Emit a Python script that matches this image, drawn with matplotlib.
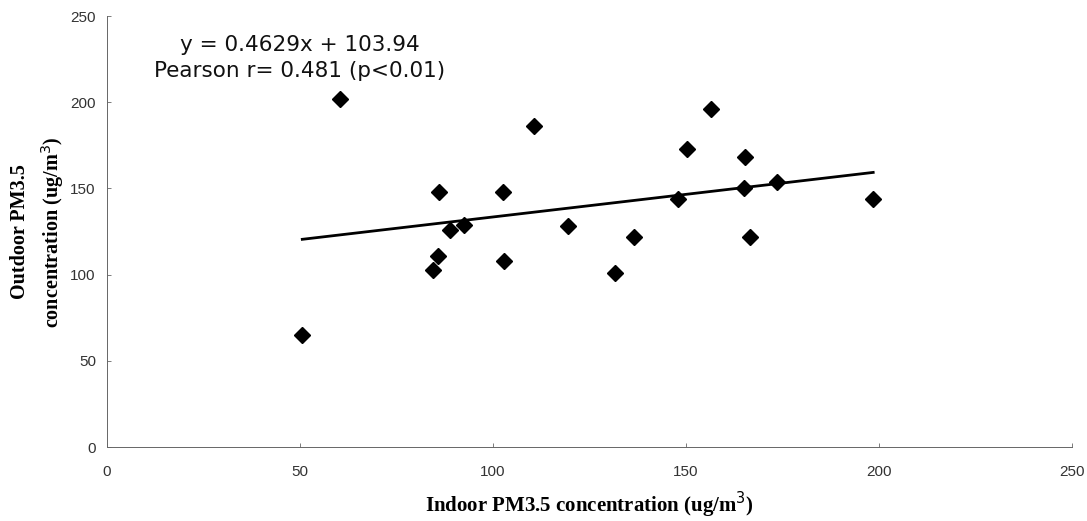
import numpy as np
import matplotlib
matplotlib.use("Agg")
import matplotlib.pyplot as plt

# Data
indoor = [50.6, 60.4, 84.4, 85.7, 86.1, 88.9, 92.6, 102.5, 102.8, 110.7, 119.4,
          131.7, 136.6, 148.0, 150.2, 156.4, 165.3, 165.1, 166.6, 173.5, 198.5]
outdoor = [65, 202, 103, 111, 148, 126, 129, 148, 108, 186, 128,
           101, 122, 144, 173, 196, 168, 150, 122, 154, 144]
x_ticks = [0, 50, 100, 150, 200, 250]
y_ticks = [0, 50, 100, 150, 200, 250]
eq_text = "y = 0.4629x + 103.94"
r_text = "Pearson r= 0.481 (p<0.01)"
x_label = "Indoor PM3.5 concentration (ug/m$^3$)"
y_label = "Outdoor PM3.5\nconcentration (ug/m$^3$)"

W, H = 1087, 521
fig = plt.figure(figsize=(W / 100, H / 100), dpi=100)
ax = fig.add_axes([0.0984, 0.142, 0.8878, 0.827])

x = np.array(indoor)
y = np.array(outdoor)
ax.plot(x, y, linestyle="none", marker="D", markersize=8, color="black", zorder=3)

slope, intercept = np.polyfit(x, y, 1)
xl = np.array([x.min(), x.max()])
ax.plot(xl, slope * xl + intercept, color="black", linewidth=2.0, zorder=2)

ax.set_xlim(0, 250)
ax.set_ylim(0, 250)
ax.set_xticks(x_ticks)
ax.set_yticks(y_ticks)
ax.set_xticklabels([str(t) for t in x_ticks])
ax.set_yticklabels([str(t) for t in y_ticks])

for s in ["top", "right"]:
    ax.spines[s].set_visible(False)
for s in ["left", "bottom"]:
    ax.spines[s].set_color("#666666")
    ax.spines[s].set_linewidth(0.7)

ax.tick_params(axis="both", direction="in", length=3, width=0.6, color="#666666",
               labelsize=11, labelcolor="#333333")
ax.tick_params(axis="x", pad=13)
ax.tick_params(axis="y", pad=8)
for lab in ax.get_xticklabels() + ax.get_yticklabels():
    lab.set_fontfamily("Liberation Sans")

ax.set_xlabel(x_label, fontfamily="Liberation Serif", fontweight="bold", fontsize=15,
              labelpad=8)
fig.text(38 / W, 1 - 232 / H, y_label, rotation=90, ha="center", va="center",
         multialignment="center", fontfamily="Liberation Serif", fontweight="bold",
         fontsize=14.5, linespacing=1.5)

ax.text(50, 233, eq_text, ha="center", va="center", fontsize=15.5,
        fontfamily="DejaVu Sans", color="#111111")
ax.text(50, 218, r_text, ha="center", va="center", fontsize=15.5,
        fontfamily="DejaVu Sans", color="#111111")

fig.savefig("out.png", dpi=100)
